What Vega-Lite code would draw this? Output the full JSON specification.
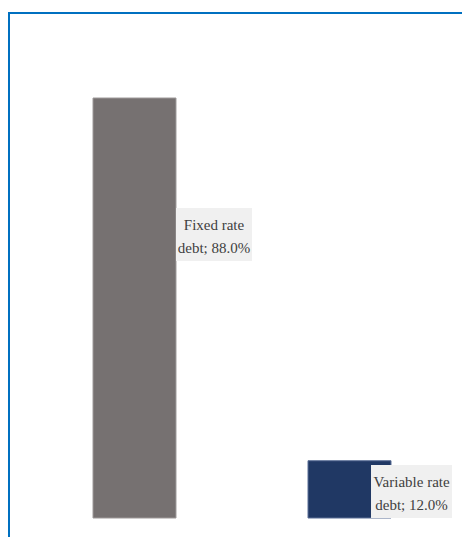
{
  "$schema": "https://vega.github.io/schema/vega-lite/v6.json",
  "autosize": {"type": "none"},
  "padding": {"left": 9, "top": 13, "right": 0, "bottom": 0},
  "width": 470,
  "height": 540,
  "background": "white",
  "config": {"view": {"stroke": "#0070C0", "strokeWidth": 2}},
  "data": {"values": [
    {"category": "Fixed rate debt", "value": 88.0, "label": "Fixed rate\ndebt; 88.0%"},
    {"category": "Variable rate debt", "value": 12.0, "label": "Variable rate\ndebt; 12.0%"}
  ]},
  "encoding": {
    "x": {"field": "category", "type": "nominal", "axis": null,
      "scale": {"paddingInner": 0.614, "paddingOuter": 0.4, "align": 0.4884}},
    "y": {"field": "value", "type": "quantitative", "axis": null,
      "scale": {"domain": [-7.333, 105.81], "nice": false, "zero": false}}
  },
  "layer": [
    {
      "mark": {"type": "bar", "strokeWidth": 1},
      "encoding": {
        "y2": {"datum": 0},
        "color": {"field": "category", "type": "nominal", "legend": null,
          "scale": {"range": ["#767171", "#203864"]}},
        "stroke": {"field": "category", "type": "nominal", "legend": null,
          "scale": {"range": ["#9e9a9a", "#5a6f96"]}}
      }
    },
    {
      "transform": [{"filter": "datum.category === 'Fixed rate debt'"}],
      "mark": {"type": "bar", "width": 76, "xOffset": 79.5, "yOffset": 110, "y2Offset": 163, "color": "#F0F0F0"},
      "encoding": {"y2": {"field": "value"}}
    },
    {
      "transform": [{"filter": "datum.category === 'Variable rate debt'"}],
      "mark": {"type": "bar", "width": 81, "xOffset": 62, "yOffset": 4.3, "color": "#F0F0F0"},
      "encoding": {"y2": {"datum": 0}}
    },
    {
      "transform": [{"filter": "datum.category === 'Fixed rate debt'"}],
      "mark": {"type": "text", "lineBreak": "\n", "font": "Liberation Serif", "fontSize": 15, "lineHeight": 23,
        "color": "#404040", "align": "center", "baseline": "middle", "xOffset": 79.5, "yOffset": 127},
      "encoding": {"text": {"field": "label"}}
    },
    {
      "transform": [{"filter": "datum.category === 'Variable rate debt'"}],
      "mark": {"type": "text", "lineBreak": "\n", "font": "Liberation Serif", "fontSize": 15, "lineHeight": 23,
        "color": "#404040", "align": "center", "baseline": "middle", "xOffset": 62, "yOffset": 21},
      "encoding": {"text": {"field": "label"}}
    }
  ]
}
